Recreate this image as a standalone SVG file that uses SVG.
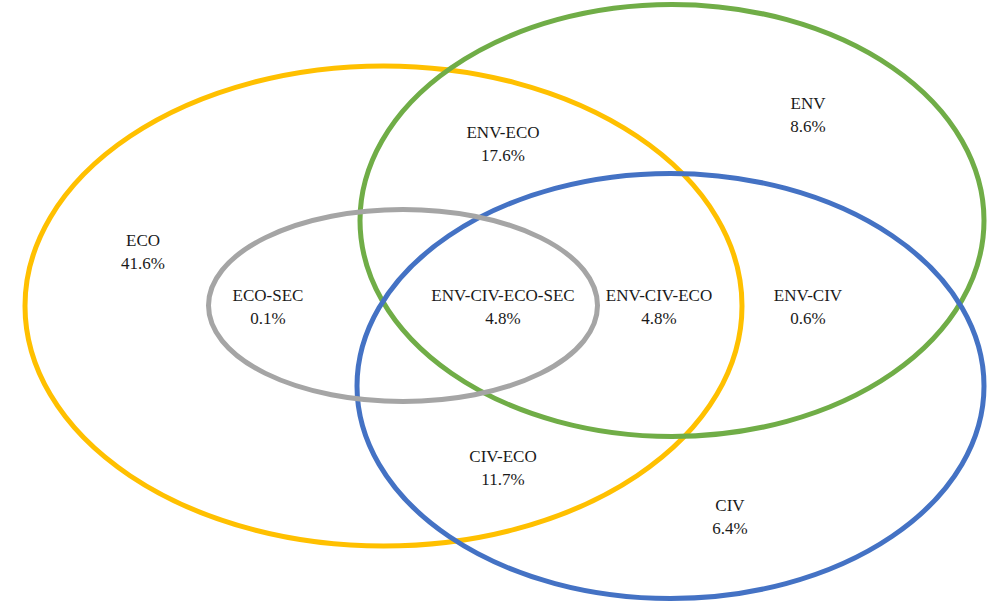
<svg xmlns="http://www.w3.org/2000/svg" width="992" height="603" viewBox="0 0 992 603">
<style>
.set{fill:none;stroke-width:5}
text{font-family:"Liberation Serif","Times New Roman",serif;font-size:17px;fill:#1a1a1a;text-anchor:middle}
</style>
<rect width="992" height="603" fill="#fff"/>
<g id="sets">
<g id="eco"><ellipse class="set" cx="383.5" cy="306" rx="358.5" ry="240" stroke="#FFC000"/></g>
<g id="env"><ellipse class="set" cx="672" cy="220.5" rx="312" ry="216" stroke="#70AD47"/></g>
<g id="civ"><ellipse class="set" cx="670.5" cy="386" rx="313.5" ry="212.5" stroke="#4472C4"/></g>
<g id="sec"><ellipse class="set" cx="403" cy="305.5" rx="194.5" ry="96" stroke="#A5A5A5"/></g>
</g>
<g id="labels">
<g id="l-eco"><text x="143" y="246">ECO</text><text x="143" y="269">41.6%</text></g>
<g id="l-ecosec"><text x="268" y="301">ECO-SEC</text><text x="268" y="324">0.1%</text></g>
<g id="l-all"><text x="503" y="301">ENV-CIV-ECO-SEC</text><text x="503" y="324">4.8%</text></g>
<g id="l-enveco-civ"><text x="659" y="301">ENV-CIV-ECO</text><text x="659" y="324">4.8%</text></g>
<g id="l-envciv"><text x="808" y="301">ENV-CIV</text><text x="808" y="324">0.6%</text></g>
<g id="l-enveco"><text x="503" y="138">ENV-ECO</text><text x="503" y="161">17.6%</text></g>
<g id="l-env"><text x="808" y="109">ENV</text><text x="808" y="132">8.6%</text></g>
<g id="l-civeco"><text x="503" y="462">CIV-ECO</text><text x="503" y="485">11.7%</text></g>
<g id="l-civ"><text x="730" y="511">CIV</text><text x="730" y="534">6.4%</text></g>
</g>
</svg>
